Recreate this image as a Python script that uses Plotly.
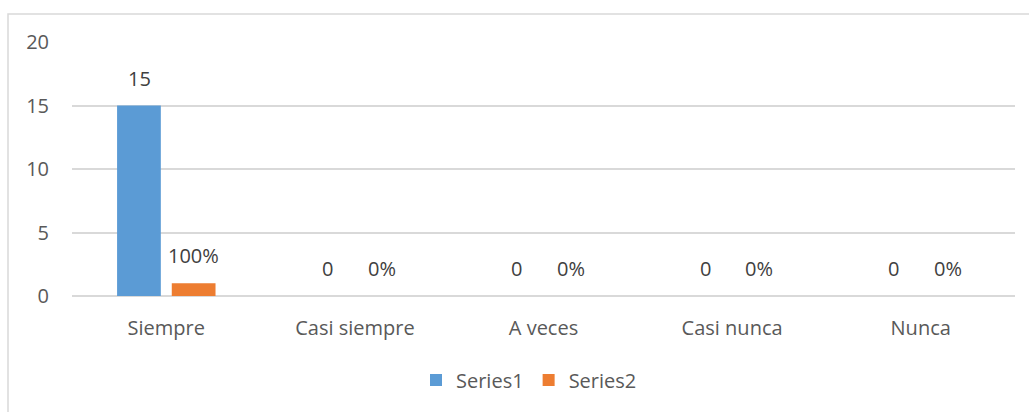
import plotly.graph_objects as go

categories = ["Siempre", "Casi siempre", "A veces", "Casi nunca", "Nunca"]
series1 = [15, 0, 0, 0, 0]
series2 = [1, 0, 0, 0, 0]  # shown as percent (1 = 100%)
y_ticks = [0, 5, 10, 15, 20]

W, H = 1029, 412
L, R, T, B = 72, 14, 42, 116
pw, ph = W - L - R, H - T - B

font_family = "Open Sans"
txt_color = "#595959"
lbl_color = "#404040"
grid_color = "#D9D9D9"
FS = 20

fig = go.Figure()
fig.add_trace(go.Bar(
    name="Series1", x=categories, y=series1,
    marker=dict(color="#5B9BD5", line=dict(width=0)),
))
fig.add_trace(go.Bar(
    name="Series2", x=categories, y=series2,
    marker=dict(color="#ED7D31", line=dict(width=0)),
))

# data labels placed above each bar
annotations = []
for cat, v1, v2 in zip(categories, series1, series2):
    annotations.append(dict(x=cat, y=v1, xref="x", yref="y", text=f"{v1}",
                            showarrow=False, xshift=-27, yshift=12, yanchor="bottom",
                            font=dict(family=font_family, size=FS, color=lbl_color)))
    annotations.append(dict(x=cat, y=v2, xref="x", yref="y", text=f"{v2:.0%}",
                            showarrow=False, xshift=27, yshift=12, yanchor="bottom",
                            font=dict(family=font_family, size=FS, color=lbl_color)))

def px_x(x):
    return (x - L) / pw

def px_y(y):
    return (H - B - y) / ph

fig.update_layout(
    width=W, height=H,
    margin=dict(l=L, r=R, t=T, b=B),
    paper_bgcolor="white", plot_bgcolor="white",
    barmode="group", bargap=0.42, bargroupgap=0.2,
    font=dict(family=font_family, size=FS, color=txt_color),
    showlegend=True,
    legend=dict(orientation="h", x=px_x(416), xanchor="left",
                y=px_y(380), yanchor="middle",
                font=dict(family=font_family, size=FS, color=txt_color),
                traceorder="normal"),
    xaxis=dict(showgrid=False, showline=False, ticks="", ticklabelstandoff=18,
               tickfont=dict(family=font_family, size=FS, color=txt_color)),
    yaxis=dict(range=[0, 20], tickvals=y_ticks, showgrid=True,
               gridcolor=grid_color, gridwidth=1.5, zeroline=True,
               zerolinecolor=grid_color, zerolinewidth=1.5,
               showline=False, ticks="", ticklabelstandoff=22,
               tickfont=dict(family=font_family, size=FS, color=txt_color)),
    annotations=annotations,
    shapes=[dict(type="rect", xref="paper", yref="paper",
                 x0=px_x(8), x1=px_x(W + 10), y0=px_y(H + 10), y1=px_y(14),
                 line=dict(color="#D9D9D9", width=1.5), fillcolor="rgba(0,0,0,0)",
                 layer="below")],
)

fig.write_html("out.html", config={"displayModeBar": False},
               post_script="document.body.style.margin='0';")
